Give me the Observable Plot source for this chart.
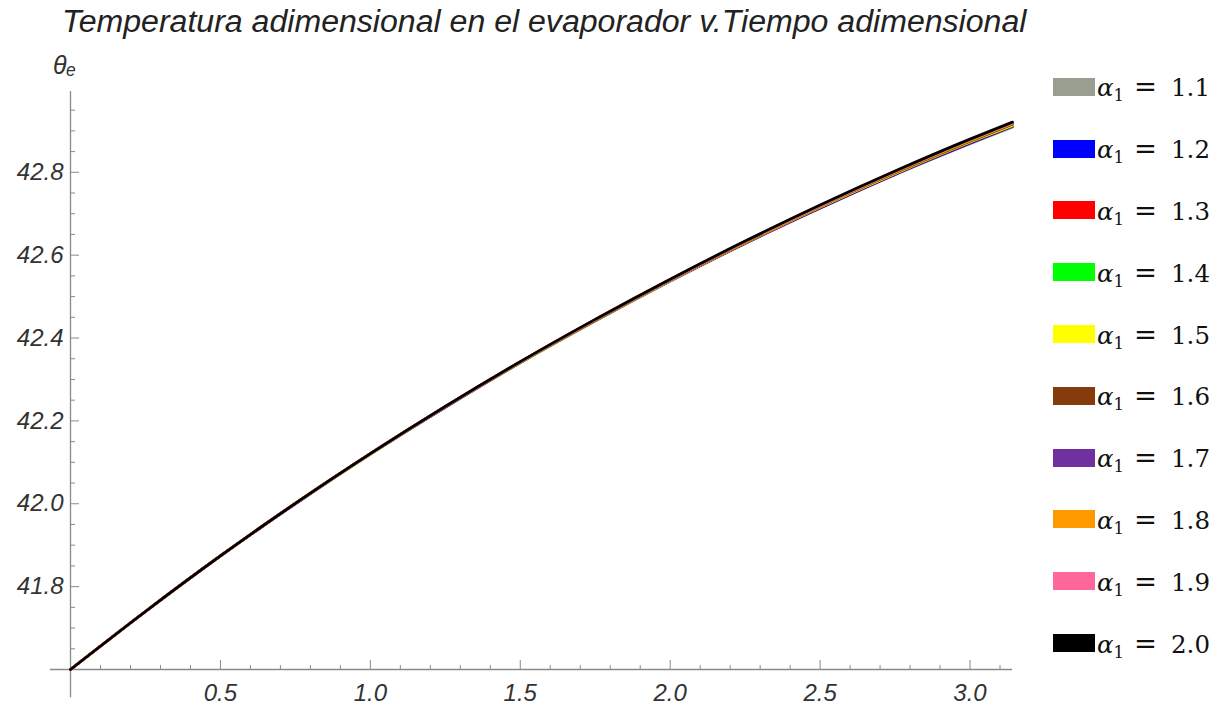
<!DOCTYPE html>
<html>
<head>
<meta charset="utf-8">
<script src="https://cdn.jsdelivr.net/npm/d3@7"></script>
<script src="https://cdn.jsdelivr.net/npm/@observablehq/plot@0.6"></script>
<style>
  html, body { margin: 0; padding: 0; background: #fff; }
  body { width: 1225px; height: 707px; overflow: hidden; position: relative;
         font-family: "Liberation Sans", Arial, sans-serif; }
  #title { position: absolute; left: 62px; top: 3px; font-style: italic; font-size: 32.1px;
           color: #222; white-space: nowrap; }
  #chart { position: absolute; left: 0; top: 45px; }
  #legend { position: absolute; left: 1053px; top: 56px; }
  .row { height: 61.8px; display: flex; align-items: center; }
  .sw { width: 42px; height: 18px; flex: none; }
  .lab { font-family: "DejaVu Serif", "Liberation Serif", serif; font-size: 24.5px; color: #111;
         margin-left: 2px; white-space: nowrap; display: flex; align-items: baseline; }
  .lab .sym { display: inline-block; width: 37px; }
  .lab .eq { display: inline-block; width: 37px; font-size: 1.12em; }
  .lab i { font-style: italic; }
  .lab sub { font-size: 0.68em; vertical-align: -0.3em; line-height: 0; }
</style>
</head>
<body>
<div id="title">Temperatura adimensional en el evaporador v.Tiempo adimensional</div>
<div id="chart"></div>
<div id="legend"></div>
<script>
// Dimensionless time samples (0 … π)
const tValues = [0, 0.25, 0.5, 0.75, 1.0, 1.25, 1.5, 1.75, 2.0, 2.25, 2.5, 2.75, 3.0, Math.PI];

// Series: α1 parameter and line colours
const alphaLabels = ["1.1", "1.2", "1.3", "1.4", "1.5", "1.6", "1.7", "1.8", "1.9", "2.0"];
const seriesColors = ["#999f90", "#0000ff", "#ff0000", "#00ff00", "#ffff00",
                      "#843c0c", "#7030a0", "#ff9900", "#ff6699", "#000000"];

// Dimensionless evaporator temperature θe for each α1
const thetaA11 = [41.600, 41.740, 41.874, 42.000, 42.120, 42.233, 42.340, 42.441, 42.537, 42.628, 42.713, 42.794, 42.869, 42.909];
const thetaA12 = [41.600, 41.740, 41.874, 42.000, 42.120, 42.233, 42.341, 42.442, 42.538, 42.629, 42.714, 42.795, 42.870, 42.911];
const thetaA13 = [41.600, 41.740, 41.874, 42.001, 42.120, 42.234, 42.341, 42.442, 42.538, 42.629, 42.715, 42.796, 42.872, 42.912];
const thetaA14 = [41.600, 41.740, 41.874, 42.001, 42.120, 42.234, 42.341, 42.443, 42.539, 42.630, 42.716, 42.797, 42.873, 42.913];
const thetaA15 = [41.600, 41.740, 41.874, 42.001, 42.120, 42.234, 42.342, 42.443, 42.539, 42.631, 42.717, 42.798, 42.874, 42.914];
const thetaA16 = [41.600, 41.740, 41.874, 42.001, 42.121, 42.234, 42.342, 42.443, 42.540, 42.631, 42.718, 42.799, 42.875, 42.916];
const thetaA17 = [41.600, 41.740, 41.874, 42.001, 42.121, 42.234, 42.342, 42.444, 42.540, 42.632, 42.718, 42.800, 42.876, 42.917];
const thetaA18 = [41.600, 41.740, 41.874, 42.001, 42.121, 42.235, 42.342, 42.444, 42.541, 42.632, 42.719, 42.801, 42.877, 42.918];
const thetaA19 = [41.600, 41.740, 41.874, 42.001, 42.121, 42.235, 42.343, 42.445, 42.541, 42.633, 42.720, 42.802, 42.879, 42.920];
const thetaA20 = [41.600, 41.740, 41.874, 42.001, 42.121, 42.235, 42.343, 42.445, 42.542, 42.634, 42.721, 42.803, 42.880, 42.921];

// Axis ticks
const xMajor = [0.5, 1.0, 1.5, 2.0, 2.5, 3.0];
const xMinor = [0.1, 0.2, 0.3, 0.4, 0.6, 0.7, 0.8, 0.9, 1.1, 1.2, 1.3, 1.4, 1.6, 1.7, 1.8, 1.9,
                2.1, 2.2, 2.3, 2.4, 2.6, 2.7, 2.8, 2.9, 3.1];
const yMajor = [41.8, 42.0, 42.2, 42.4, 42.6, 42.8];
const yMinor = [41.65, 41.7, 41.75, 41.85, 41.9, 41.95, 42.05, 42.1, 42.15, 42.25, 42.3, 42.35,
                42.45, 42.5, 42.55, 42.65, 42.7, 42.75, 42.85, 42.9, 42.95];

const allSeries = [thetaA11, thetaA12, thetaA13, thetaA14, thetaA15,
                   thetaA16, thetaA17, thetaA18, thetaA19, thetaA20];
const rows = [];
allSeries.forEach((vals, i) => {
  vals.forEach((v, j) => rows.push({alpha: alphaLabels[i], t: tValues[j], theta: v}));
});

// Plot range (axes cross at t = 0, θe = 41.6)
const xOrigin = 0, yOrigin = 41.6;
const xDomain = [0, Math.PI];
const yDomain = [41.6, 42.995];
const xLow = -0.067, yLow = 41.532;

const W = 1045, H = 662, mTop = 46, mBottom = 38, mLeft = 70, mRight = 33;
const frameH = H - mTop - mBottom;
const frameW = W - mLeft - mRight;
const axisColor = "#8a8a8a";
const labelColor = "#333";

const chart = Plot.plot({
  width: W, height: H,
  marginTop: mTop, marginBottom: mBottom, marginLeft: mLeft, marginRight: mRight,
  x: {domain: xDomain, axis: null},
  y: {domain: yDomain, axis: null},
  color: {domain: alphaLabels, range: seriesColors},
  style: {fontFamily: "'Liberation Sans', Arial, sans-serif", background: "#fff", overflow: "visible"},
  marks: [
    // axis lines crossing at the origin
    Plot.ruleY([yOrigin], {x1: xLow, x2: Math.PI, stroke: axisColor, strokeWidth: 1.3}),
    Plot.ruleX([xOrigin], {y1: yLow, y2: yDomain[1], stroke: axisColor, strokeWidth: 1.3}),
    // x ticks (pointing up into the plot)
    Plot.tickX(xMinor, {x: d => d, stroke: axisColor, strokeWidth: 1, insetTop: frameH - 4}),
    Plot.tickX(xMajor, {x: d => d, stroke: axisColor, strokeWidth: 1, insetTop: frameH - 9}),
    // y ticks (pointing right into the plot)
    Plot.tickY(yMinor, {y: d => d, stroke: axisColor, strokeWidth: 1, insetRight: frameW - 5}),
    Plot.tickY(yMajor, {y: d => d, stroke: axisColor, strokeWidth: 1, insetRight: frameW - 9}),
    // tick labels
    Plot.text(xMajor, {x: d => d, y: yOrigin, text: d => d.toFixed(1), dy: 24,
      fontSize: 24, fontStyle: "italic", fill: labelColor, textAnchor: "middle", lineAnchor: "middle"}),
    Plot.text(yMajor, {x: xOrigin, y: d => d, text: d => d.toFixed(1), dx: -7,
      fontSize: 24, fontStyle: "italic", fill: labelColor, textAnchor: "end", lineAnchor: "middle"}),
    // y-axis label
    Plot.text(["θₑ"], {frameAnchor: "top-left", dx: -6, dy: -26, fontSize: 25, fontStyle: "italic",
      fill: labelColor, textAnchor: "middle", lineAnchor: "middle"}),
    // temperature curves, α1 = 2.0 drawn last
    Plot.line(rows, {x: "t", y: "theta", z: "alpha", stroke: "alpha", curve: "monotone-x",
      strokeWidth: 2.8, strokeLinejoin: "round"})
  ]
});
document.getElementById("chart").appendChild(chart);

// Legend
const legend = document.getElementById("legend");
alphaLabels.forEach((a, i) => {
  const row = document.createElement("div");
  row.className = "row";
  row.innerHTML = `<div class="sw" style="background:${seriesColors[i]}"></div>` +
    `<div class="lab"><span class="sym"><i>α</i><sub>1</sub></span><span class="eq">=</span><span>${a}</span></div>`;
  legend.appendChild(row);
});
</script>
</body>
</html>
